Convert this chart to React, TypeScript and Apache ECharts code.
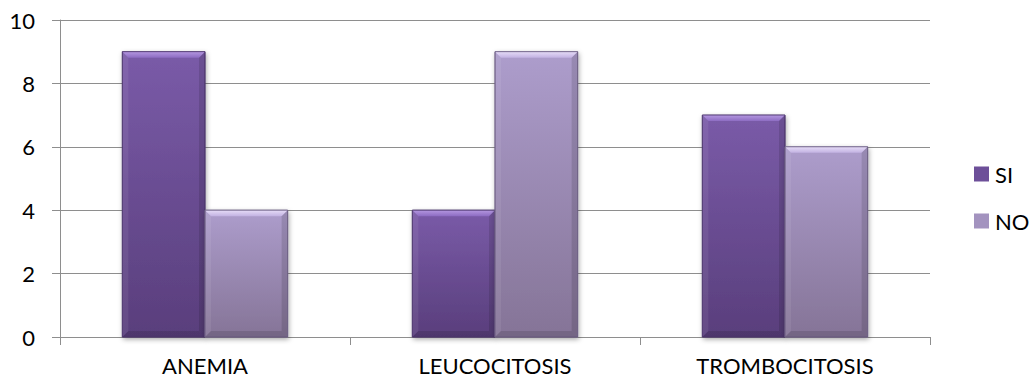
import React, { useEffect, useRef } from "react";
import * as echarts from "echarts";

const categories = ["ANEMIA", "LEUCOCITOSIS", "TROMBOCITOSIS"];
const siValues = [9, 4, 7];
const noValues = [4, 9, 6];
const yTicks = { min: 0, max: 10, interval: 2 };

const FONT = "Lato, 'Open Sans', sans-serif";
const FONT_SIZE = 22;

type Palette = { top: string; bottom: string; bevelTop: string; bevelMid: string; edge: string };

const siPalette: Palette = {
  top: "#7a5ba8",
  bottom: "#593e7c",
  bevelTop: "#b497e0",
  bevelMid: "#8d6cc2",
  edge: "#4f3870",
};
const noPalette: Palette = {
  top: "#ad9dcc",
  bottom: "#857497",
  bevelTop: "#e6dcf7",
  bevelMid: "#c2b2e2",
  edge: "#6f6186",
};

// Bar width as a share of one category's band
const BAR_SHARE = 0.285;
const BEVEL = 6;

function beveledBars(values: number[], palette: Palette, side: -1 | 1) {
  return {
    type: "custom",
    data: values.map((v, i) => [i, v]),
    encode: { x: 0, y: 1 },
    itemStyle: { color: palette.top },
    renderItem: (_params: any, api: any) => {
      const idx = api.value(0);
      const val = api.value(1);
      const base = api.coord([idx, 0]);
      const peak = api.coord([idx, val]);
      const band = api.size([1, 0])[0];
      const w = band * BAR_SHARE;
      const x0 = side < 0 ? base[0] - w : base[0];
      const x1 = x0 + w;
      const yT = peak[1];
      const yB = base[1];
      const h = yB - yT;
      const b = Math.min(BEVEL, h / 2);
      return {
        type: "group",
        children: [
          {
            type: "rect",
            shape: { x: x0, y: yT, width: w, height: h },
            style: {
              fill: new echarts.graphic.LinearGradient(0, 0, 0, 1, [
                { offset: 0, color: palette.top },
                { offset: 1, color: palette.bottom },
              ]),
              stroke: palette.edge,
              lineWidth: 0.8,
              shadowBlur: 5,
              shadowColor: "rgba(0,0,0,0.35)",
              shadowOffsetX: 1,
              shadowOffsetY: 2,
            },
          },
          {
            type: "polygon",
            shape: { points: [[x0, yT], [x1, yT], [x1 - b, yT + b], [x0 + b, yT + b]] },
            style: {
              fill: new echarts.graphic.LinearGradient(0, 0, 0, 1, [
                { offset: 0, color: palette.bevelTop },
                { offset: 1, color: palette.bevelMid },
              ]),
            },
          },
          {
            type: "polygon",
            shape: { points: [[x0, yT], [x0 + b, yT + b], [x0 + b, yB - b], [x0, yB]] },
            style: { fill: "rgba(255,255,255,0.07)" },
          },
          {
            type: "polygon",
            shape: { points: [[x1, yT], [x1 - b, yT + b], [x1 - b, yB - b], [x1, yB]] },
            style: { fill: "rgba(0,0,0,0.12)" },
          },
          {
            type: "polygon",
            shape: { points: [[x0, yB], [x0 + b, yB - b], [x1 - b, yB - b], [x1, yB]] },
            style: { fill: "rgba(0,0,0,0.12)" },
          },
          {
            type: "rect",
            shape: { x: x0, y: yT, width: w, height: h },
            style: { fill: "none", stroke: palette.edge, lineWidth: 0.8 },
          },
        ],
      };
    },
  };
}

export default function App() {
  const ref = useRef<HTMLDivElement>(null);

  useEffect(() => {
    if (!ref.current) return;
    const chart = echarts.init(ref.current, null, { renderer: "svg" });
    const axisGray = "#8e8e8e";
    chart.setOption({
      animation: false,
      grid: { left: 60, right: 100, top: 20, bottom: 46 },
      legend: {
        orient: "vertical",
        left: 969,
        top: 158,
        itemWidth: 15,
        itemHeight: 15,
        itemGap: 25,
        textStyle: { fontFamily: FONT, fontSize: FONT_SIZE, color: "#000", padding: [0, 0, 0, 1] },
        data: [
          { name: "SI", icon: "rect", itemStyle: { color: "#6d4f99" } },
          { name: "NO", icon: "rect", itemStyle: { color: "#a393bf" } },
        ],
      },
      xAxis: {
        type: "category",
        data: categories,
        axisLine: { lineStyle: { color: axisGray, width: 1 } },
        axisTick: { show: true, length: 8, lineStyle: { color: axisGray } },
        axisLabel: { fontFamily: FONT, fontSize: FONT_SIZE, color: "#000", margin: 17 },
      },
      yAxis: {
        type: "value",
        min: yTicks.min,
        max: yTicks.max,
        interval: yTicks.interval,
        axisLine: { show: true, lineStyle: { color: axisGray, width: 1 } },
        axisTick: { show: true, length: 8, lineStyle: { color: axisGray } },
        axisLabel: { fontFamily: FONT, fontSize: FONT_SIZE, color: "#000", margin: 25 },
        splitLine: { lineStyle: { color: axisGray, width: 1 } },
      },
      series: [
        { name: "SI", ...beveledBars(siValues, siPalette, -1) },
        { name: "NO", ...beveledBars(noValues, noPalette, 1) },
      ],
    });
    return () => chart.dispose();
  }, []);

  return (
    <div
      ref={ref}
      style={{ position: "fixed", left: 0, top: 0, width: 1030, height: 383, background: "#fff" }}
    />
  );
}
